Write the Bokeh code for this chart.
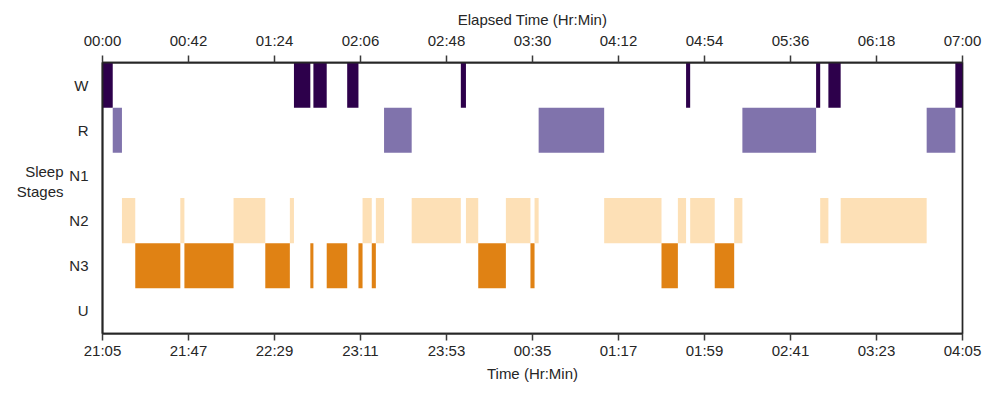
from bokeh.plotting import figure
from bokeh.models import LinearAxis, FixedTicker, ColumnDataSource
from bokeh.embed import file_html
from bokeh.resources import INLINE

# ---- data ----
stages = ["U", "N3", "N2", "N1", "R", "W"]  # bottom to top
stage_colors = {"W": "#2d004b", "R": "#8073ac", "N1": "#b2abd2",
                "N2": "#fde0b6", "N3": "#e08214", "U": "#cccccc"}

seg_start = [0, 5, 9.5, 16, 38, 40, 64, 79.5, 91.5, 93.5, 101.5, 103, 109.5, 119.5,
             125, 127, 131.5, 133.5, 137.5, 151, 175, 177.5, 183.5, 197, 209, 211,
             213, 245, 273, 281, 285, 287, 299, 308.5, 312.5, 348.5, 350.5, 354.5,
             360.5, 402.5, 416.5]
seg_end = [5, 9.5, 16, 38, 40, 64, 79.5, 91.5, 93.5, 101.5, 103, 109.5, 119.5, 125,
           127, 131.5, 133.5, 137.5, 151, 175, 177.5, 183.5, 197, 209, 211, 213,
           245, 273, 281, 285, 287, 299, 308.5, 312.5, 348.5, 350.5, 354.5, 360.5,
           402.5, 416.5, 420]
seg_stage = ["W", "R", "N2", "N3", "N2", "N3", "N2", "N3", "N2", "W", "N3", "W", "N3", "W",
             "N3", "N2", "N3", "N2", "R", "N2", "W", "N2", "N3", "N2", "N3", "N2",
             "R", "N2", "N3", "N2", "W", "N2", "N3", "N2", "R", "W", "N2", "W",
             "N2", "R", "W"]

tick_minutes = [0, 42, 84, 126, 168, 210, 252, 294, 336, 378, 420]
elapsed_labels = ["00:00", "00:42", "01:24", "02:06", "02:48", "03:30",
                  "04:12", "04:54", "05:36", "06:18", "07:00"]
clock_labels = ["21:05", "21:47", "22:29", "23:11", "23:53", "00:35",
                "01:17", "01:59", "02:41", "03:23", "04:05"]
y_title = "Sleep\nStages"

FONT = "Liberation Sans"
TXT = "#262626"
FS = "15px"

stage_pos = {s: i for i, s in enumerate(stages)}

src = ColumnDataSource(dict(left=seg_start, right=seg_end,
                            y=[stage_pos[s] for s in seg_stage],
                            color=[stage_colors[s] for s in seg_stage]))

p = figure(width=984, height=384, x_range=(0, 420), y_range=(-0.5, len(stages) - 0.5),
           output_backend="svg", toolbar_location=None,
           min_border_left=102, min_border_right=22, min_border_top=62, min_border_bottom=49)

p.hbar(y="y", left="left", right="right", height=1.0, color="color",
       line_color=None, source=src)

p.grid.visible = False
p.outline_line_color = TXT
p.outline_line_width = 1.75
p.background_fill_color = "white"
p.border_fill_color = "white"

# bottom axis (clock time)
xa = p.xaxis[0]
xa.ticker = FixedTicker(ticks=tick_minutes)
xa.major_label_overrides = {t: l for t, l in zip(tick_minutes, clock_labels)}
xa.axis_label = "Time (Hr:Min)"

# top axis (elapsed)
top = LinearAxis(ticker=FixedTicker(ticks=tick_minutes),
                 major_label_overrides={t: l for t, l in zip(tick_minutes, elapsed_labels)},
                 axis_label="Elapsed Time (Hr:Min)")
p.add_layout(top, "above")

for ax in (xa, top):
    ax.axis_line_color = TXT
    ax.axis_line_width = 1.75
    ax.major_tick_line_color = "#3a3a3a"
    ax.major_tick_line_width = 1.5
    ax.major_tick_out = 7
    ax.major_tick_in = 0
    ax.minor_tick_line_color = None
    ax.major_label_text_font = FONT
    ax.major_label_text_font_size = FS
    ax.major_label_text_color = TXT
    ax.axis_label_text_font = FONT
    ax.axis_label_text_font_size = FS
    ax.axis_label_text_font_style = "normal"
    ax.axis_label_text_color = TXT
xa.major_label_standoff = 1
xa.axis_label_standoff = 3
top.major_label_standoff = 7
top.axis_label_standoff = 1

ya = p.yaxis[0]
ya.ticker = FixedTicker(ticks=list(range(len(stages))))
ya.major_label_overrides = {i: s for i, s in enumerate(stages)}
ya.axis_line_color = TXT
ya.axis_line_width = 1.75
ya.major_tick_line_color = None
ya.minor_tick_line_color = None
ya.major_label_standoff = 8
ya.major_label_text_font = FONT
ya.major_label_text_font_size = FS
ya.major_label_text_color = TXT

# y title drawn as the single tick label of an extra, invisible left axis
ty = stage_pos["N1"] - 0.13
ya2 = LinearAxis(ticker=FixedTicker(ticks=[ty]), major_label_overrides={ty: y_title})
ya2.axis_line_color = None
ya2.major_tick_line_color = None
ya2.minor_tick_line_color = None
ya2.major_label_standoff = -3
ya2.major_label_text_font = FONT
ya2.major_label_text_font_size = FS
ya2.major_label_text_color = TXT
ya2.major_label_text_align = "center"
p.add_layout(ya2, "left")

open("out.html", "w").write(file_html(p, INLINE))
